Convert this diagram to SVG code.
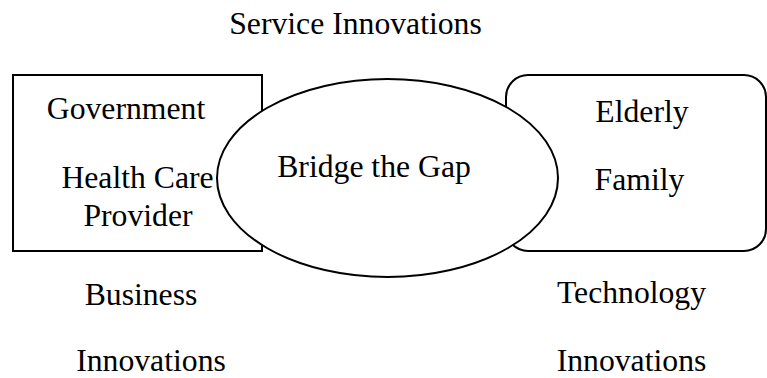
<svg xmlns="http://www.w3.org/2000/svg" width="767" height="378" viewBox="0 0 767 378">
<style>
.shape{fill:#fff;stroke:#000;stroke-width:2}
text{font-family:"Liberation Serif","Times New Roman",serif;font-size:31.7px;fill:#000;text-anchor:middle}
</style>
<rect width="767" height="378" fill="#fff"/>
<g id="labels">
<text x="355.5" y="34">Service Innovations</text>
<text x="141" y="305">Business</text>
<text x="151" y="371">Innovations</text>
<text x="631.5" y="303">Technology</text>
<text x="631.5" y="371">Innovations</text>
</g>
<g id="providers">
<rect class="shape" x="13" y="75" width="249" height="176"/>
<text x="126" y="119">Government</text>
<text x="137.5" y="188">Health Care</text>
<text x="138" y="226">Provider</text>
</g>
<g id="users">
<rect class="shape" x="506" y="75" width="260" height="176" rx="22" ry="22"/>
<text x="642" y="122">Elderly</text>
<text x="639.5" y="190">Family</text>
</g>
<g id="bridge">
<ellipse class="shape" cx="387.5" cy="178" rx="170.5" ry="99"/>
<text x="374" y="177">Bridge the Gap</text>
</g>
</svg>
